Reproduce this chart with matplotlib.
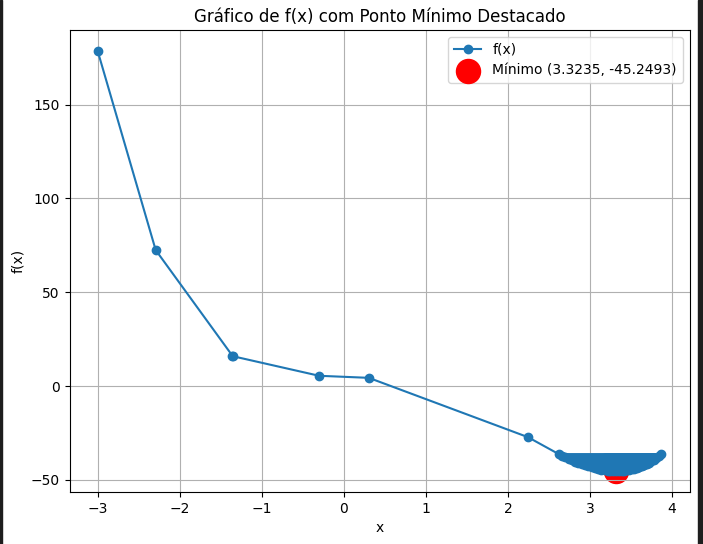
import matplotlib.pyplot as plt
from matplotlib.patches import Rectangle

# trajectory points
x_inicio = [-3.0, -2.293, -1.36, -1.35, -0.301, 0.305, 2.244]
y_inicio = [178.6, 72.5, 16.3, 15.9, 5.5, 4.4, -27.2]

# oscillation around the minimum (left side / right side)
x_esq = [2.62, 2.66, 2.70, 2.74, 2.78, 2.82, 2.86, 2.90, 2.94, 2.98, 3.02, 3.06, 3.10, 3.14, 3.18, 3.22, 3.25, 3.28]
y_esq = [-36.24, -37.10, -37.94, -38.74, -39.51, -40.25, -40.95, -41.60, -42.22, -42.78, -43.30, -43.76, -44.17, -44.51, -44.80, -45.01, -45.13, -45.21]
x_dir = [3.87, 3.84, 3.81, 3.78, 3.75, 3.72, 3.69, 3.66, 3.63, 3.60, 3.57, 3.54, 3.51, 3.48, 3.45, 3.42, 3.39, 3.36]
y_dir = [-36.23, -37.27, -38.24, -39.14, -39.96, -40.73, -41.42, -42.05, -42.62, -43.13, -43.58, -43.97, -44.30, -44.59, -44.82, -45.00, -45.13, -45.21]

x_min = 3.3235
y_min = -45.2493

xs = list(x_inicio)
ys = list(y_inicio)
for xe, ye, xd, yd in zip(x_esq, y_esq, x_dir, y_dir):
    xs += [xe, xd]
    ys += [ye, yd]
xs.append(x_min)
ys.append(y_min)

fig = plt.figure(figsize=(7.03, 5.44), dpi=100)
ax = fig.add_axes([69.5 / 703, 52 / 544, 620 / 703, 462 / 544])

ax.plot(xs, ys, marker="o", label="f(x)")
ax.scatter([x_min], [y_min], color="red", s=300,
           label=f"Mínimo ({x_min:.4f}, {y_min:.4f})")
ax.set_title("Gráfico de f(x) com Ponto Mínimo Destacado")
ax.set_xlabel("x")
ax.set_ylabel("f(x)")
ax.legend()
ax.grid(True)

# dark window borders of the screenshot
fig.patches.append(Rectangle((0, 0), 2 / 703, 1, transform=fig.transFigure,
                             color="#1e1e1e", zorder=10))
fig.patches.append(Rectangle((698 / 703, 0), 5 / 703, 1, transform=fig.transFigure,
                             color="#1e1e1e", zorder=10))

fig.savefig("out.png", dpi=100)
